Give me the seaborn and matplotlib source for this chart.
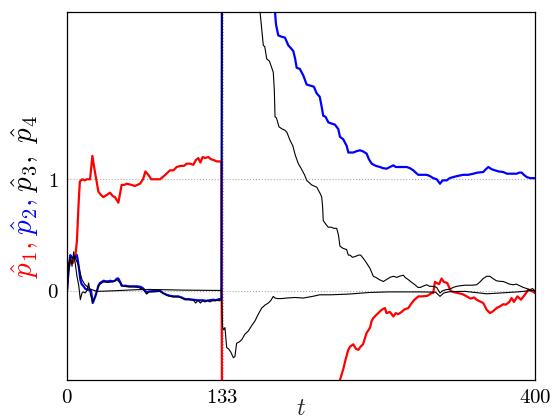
import numpy as np
import matplotlib
matplotlib.use("Agg")
import matplotlib.pyplot as plt
import seaborn as sns

# ---------------- data (t, value) ----------------
p1_points = [
    (0, 0), (1, 0.18), (3, 0.28), (5, 0.25), (7, 0.30), (8.5, 0.45), (10, 0.8), (11, 0.98),
    (13, 1.0), (15, 0.99), (17, 1.0), (19.7, 1.0), (21.7, 1.21), (23, 1.12), (25, 1.0),
    (26.8, 0.89), (29, 0.86), (31, 0.84), (34, 0.86), (36.8, 0.88), (39, 0.85), (41, 0.84),
    (43.9, 0.79), (46.7, 0.95), (49, 0.95), (51, 0.96), (55, 0.95), (58, 0.94), (62.4, 0.96),
    (65, 1.0), (67, 1.07), (69.5, 1.04), (72, 1.0), (75, 1.0), (79.5, 1.0), (83, 1.03),
    (86, 1.06), (88, 1.08), (91, 1.08), (93.7, 1.11), (97, 1.12), (100, 1.12), (102.3, 1.14),
    (105, 1.14), (108, 1.13), (110, 1.17), (112.2, 1.19), (114, 1.15), (116, 1.2), (118, 1.19),
    (120.8, 1.2), (123, 1.18), (126, 1.17), (128, 1.16), (130.8, 1.16), (132, 1.16),
    (133, -4.0), (180, -2.2), (220, -1.1), (233.3, -0.8), (236.2, -0.70), (238, -0.62),
    (240.4, -0.53), (242, -0.50), (244.7, -0.48), (247, -0.52), (249, -0.53), (251, -0.50),
    (253, -0.48), (256, -0.38), (259, -0.33), (260.4, -0.27), (261.8, -0.245), (264, -0.22),
    (266, -0.20), (269, -0.17), (271.8, -0.155), (273, -0.20), (276, -0.19), (279, -0.23),
    (281, -0.20), (283, -0.21), (286, -0.19), (288, -0.17), (291.7, -0.155), (294.6, -0.11),
    (297, -0.08), (300.3, -0.05), (304, -0.05), (308, -0.045), (311.7, -0.02), (313, -0.02),
    (314.5, 0.08), (316, 0.07), (318, 0.06), (320.2, 0.11), (322, 0.08), (325, 0.07),
    (327.9, 0.0), (330, -0.01), (334, -0.02), (338, -0.03), (341.6, -0.05), (345, -0.07),
    (348, -0.06), (350, -0.08), (355.8, -0.11), (358.7, -0.17), (361.5, -0.20), (364, -0.185),
    (367.2, -0.155), (370, -0.14), (373, -0.12), (375, -0.125), (378, -0.10), (380, -0.065),
    (382, -0.10), (385, -0.05), (388, -0.08), (391, -0.04), (394.3, 0.01), (397, 0.0), (400, -0.02),
]

p2_points = [
    (0, 0), (1.5, 0.2), (2.8, 0.32), (4, 0.30), (5.7, 0.29), (7, 0.30), (8.5, 0.32), (10, 0.22),
    (11.4, 0.10), (12.5, 0.06), (14.2, 0.04), (15.5, 0.02), (17.1, 0.01), (19, 0.01), (20.5, 0.0),
    (22, -0.11), (24.2, -0.05), (27, 0.05), (28.2, 0.07), (31.3, 0.09), (33, 0.085), (35.6, 0.085),
    (36.8, 0.09), (39, 0.085), (41, 0.09), (42.7, 0.11), (43.9, 0.11), (45.6, 0.075), (46.7, 0.045),
    (50, 0.045), (53, 0.04), (56.7, 0.04), (60, 0.04), (63, 0.035), (65.2, 0.02), (68.1, -0.015),
    (70, -0.005), (72, -0.005), (75, 0.0), (79.5, 0.0), (82, -0.02), (85.2, -0.036), (88, -0.045),
    (91, -0.05), (95.1, -0.05), (98, -0.06), (100.9, -0.075), (104, -0.075), (108, -0.08),
    (112.3, -0.086), (116, -0.085), (119, -0.09), (122, -0.085), (125, -0.08), (127, -0.085),
    (130.2, -0.075), (132, -0.075),
    (133, 7.0), (150, 4.2), (165, 2.9), (177.8, 2.5), (178.6, 2.39), (180.6, 2.29), (183, 2.28),
    (186.3, 2.27), (189.2, 2.20), (191, 2.18), (193.4, 2.15), (195, 2.08), (196.3, 2.0),
    (199, 1.99), (202, 1.93), (204.8, 1.85), (208, 1.84), (211, 1.83), (213.4, 1.77),
    (216, 1.74), (217.5, 1.66), (219, 1.57), (221, 1.56), (223.4, 1.51), (226, 1.50),
    (229, 1.49), (231.9, 1.45), (233.3, 1.38), (236, 1.36), (239, 1.30), (240.5, 1.24),
    (244.7, 1.24), (247, 1.25), (250.4, 1.26), (253, 1.25), (256.1, 1.23), (258, 1.18),
    (260.4, 1.14), (264, 1.12), (267.5, 1.11), (270, 1.10), (273.2, 1.095), (276, 1.11),
    (278.9, 1.125), (281, 1.11), (284.6, 1.11), (287, 1.11), (290.3, 1.11), (293, 1.10),
    (296, 1.08), (298, 1.06), (300.3, 1.04), (304, 1.04), (307.4, 1.04), (310, 1.03),
    (313.1, 1.01), (316, 1.00), (318.8, 0.96), (321, 0.99), (324.5, 0.99), (327, 1.01),
    (330.2, 1.02), (334, 1.03), (338.7, 1.04), (343, 1.04), (347.3, 1.05), (351, 1.06),
    (355.8, 1.065), (358, 1.09), (360.1, 1.11), (363, 1.09), (365.8, 1.08), (369, 1.07),
    (372.9, 1.065), (376, 1.05), (378.6, 1.05), (381, 1.05), (384.4, 1.05), (386.5, 1.06),
    (388.6, 1.06), (390.5, 1.04), (392.9, 1.02), (396, 1.01), (398, 1.01), (400, 1.01),
]

p3_points = [
    (0, 0), (1.5, 0.25), (3, 0.30), (4.3, 0.22), (5.7, 0.35), (7, 0.25), (8.5, 0.13), (10, 0.05),
    (11.4, -0.08), (12.8, -0.02), (14.2, -0.01), (15.5, -0.02), (17, 0.0), (18.5, 0.07),
    (20, -0.03), (22, -0.10), (24.2, -0.05), (27, 0.04), (28.2, 0.06), (31.3, 0.08), (35, 0.075),
    (39, 0.08), (42.7, 0.10), (45.6, 0.07), (48, 0.04), (53, 0.035), (57, 0.035), (61, 0.03),
    (65.2, 0.01), (68.1, -0.03), (70, -0.01), (75, -0.01), (79.5, -0.005), (85, -0.04),
    (88, -0.05), (91, -0.055), (95, -0.055), (98, -0.065), (101, -0.08), (104, -0.08),
    (108, -0.085), (110, -0.11), (112, -0.085), (114, -0.11), (116, -0.09), (118, -0.10),
    (120, -0.085), (122, -0.10), (124, -0.09), (126, -0.09), (128, -0.085), (130, -0.09),
    (132, -0.08),
    (133, 5.5), (145, 3.6), (155, 2.9), (165, 2.5), (166.4, 2.35), (167.8, 2.20), (169, 2.19),
    (170.7, 2.08), (173, 2.06), (176.3, 1.96), (177.2, 1.80), (177.8, 1.56), (179, 1.55),
    (181.2, 1.47), (184, 1.45), (186.3, 1.44), (188, 1.42), (190.6, 1.35), (193, 1.30),
    (195, 1.22), (197.7, 1.14), (200, 1.10), (203, 1.04), (204.9, 0.99), (207, 0.97),
    (209, 0.95), (211, 0.94), (213.4, 0.93), (215, 0.90), (216.5, 0.87), (217.7, 0.84),
    (218.5, 0.75), (219, 0.63), (221, 0.60), (223.3, 0.57), (226, 0.57), (228, 0.56),
    (230.5, 0.56), (232, 0.50), (233.3, 0.40), (236, 0.38), (239, 0.37), (240.4, 0.32),
    (241.9, 0.32), (244, 0.30), (247, 0.31), (249, 0.32), (251, 0.32), (253.3, 0.29),
    (256, 0.25), (259, 0.20), (261.8, 0.13), (264, 0.12), (267, 0.10), (270.4, 0.083),
    (273, 0.10), (276, 0.12), (279, 0.13), (282, 0.12), (284, 0.13), (287.5, 0.14),
    (289, 0.12), (291.7, 0.10), (294, 0.08), (297.4, 0.054), (300, 0.03), (302, 0.03),
    (304, 0.04), (307.4, 0.054), (310, 0.04), (313, 0.04), (316, 0.03), (318.8, -0.02),
    (321, 0.0), (324, 0.01), (327.4, 0.015), (330, 0.03), (333, 0.04), (336, 0.045),
    (340, 0.05), (343, 0.05), (346, 0.05), (350.2, 0.054), (353, 0.08), (355.8, 0.11),
    (358.7, 0.13), (361.5, 0.13), (364, 0.11), (367, 0.09), (370, 0.085), (372.9, 0.083),
    (376, 0.07), (378, 0.06), (381.5, 0.054), (384, 0.06), (386, 0.05), (388, 0.04),
    (390, 0.03), (392.9, 0.02), (395.7, 0.01), (398, 0.02), (400, -0.01),
]

p4_points = [
    (0, 0), (1.5, 0.2), (3, 0.3), (5, 0.3), (7, 0.30), (8.5, 0.26), (10, 0.22), (11.5, 0.15),
    (12.8, 0.10), (15, 0.06), (17, 0.04), (19, 0.02), (21.4, 0.01), (24, 0.0), (27, -0.005),
    (32, -0.003), (40, 0.0), (50, 0.005), (60, 0.01), (70, 0.012), (80, 0.01), (90, 0.008),
    (100, 0.006), (110, 0.005), (120, 0.004), (132, 0.003),
    (133, -0.33), (134, -0.35), (135, -0.33), (136.5, -0.51), (138, -0.52), (140, -0.55),
    (142.2, -0.60), (143.5, -0.59), (145, -0.47), (147, -0.46), (149.3, -0.44), (152, -0.39),
    (155, -0.36), (158, -0.31), (160.7, -0.27), (163, -0.22), (166.4, -0.155), (169, -0.13),
    (172, -0.11), (174, -0.09), (176.3, -0.05), (177.8, -0.065), (180, -0.07), (183, -0.07),
    (187.8, -0.065), (195, -0.06), (202, -0.065), (210, -0.05), (216, -0.036), (225, -0.036),
    (240, -0.03), (259, -0.015), (275, -0.01), (300, -0.01), (315, -0.012), (318.8, -0.05),
    (322, -0.02), (327, -0.008), (340, -0.005), (358.7, -0.027), (370, -0.02), (385, -0.01),
    (400, 0.005),
]

series_colors = ["#ff0000", "#0000ff", "#000000", "#000000"]
series_widths = [1.6, 1.6, 0.8, 0.8]

x_ticks = [0, 133, 400]
x_tick_labels = ["$0$", "$133$", "$400$"]
y_ticks = [0, 1]
y_tick_labels = ["$0$", "$1$"]

ylabel_parts = [r"$\hat{p}_1,$", r"$\hat{p}_2,$", r"$\hat{p}_3,\ \hat{p}_4$"]
ylabel_colors = ["#ff0000", "#0000ff", "#000000"]
xlabel_text = "$t$"

# ---------------- figure ----------------
sns.set_style("white")
plt.rcParams["mathtext.fontset"] = "cm"
plt.rcParams["font.family"] = ["DejaVu Serif"]

W, H = 558, 419
fig = plt.figure(figsize=(W / 100, H / 100), dpi=100)
ax = fig.add_axes([67 / W, 1 - 380 / H, (535 - 67) / W, (380 - 12) / H])

for pts, col, lw in zip([p1_points, p2_points, p3_points, p4_points], series_colors, series_widths):
    arr = np.array(pts, dtype=float)
    sns.lineplot(x=arr[:, 0], y=arr[:, 1], ax=ax, color=col, linewidth=lw,
                 estimator=None, sort=False, legend=False)

ax.set_xlim(0, 400)
ax.set_ylim(-0.8, 2.5)
ax.set_xticks(x_ticks, labels=x_tick_labels)
ax.set_yticks(y_ticks, labels=y_tick_labels)
ax.tick_params(axis="both", direction="in", length=3, width=0.8, labelsize=15, pad=6, colors="black")
ax.set_axisbelow(True)
ax.grid(True, linestyle=":", color="#aaaaaa", linewidth=0.8)
for s in ax.spines.values():
    s.set_visible(True)
    s.set_color("black")
    s.set_linewidth(0.9)

ax.set_xlabel(xlabel_text, fontsize=17)
ax.xaxis.label.set_va("bottom")
ax.xaxis.set_label_coords(0.5, -(419.5 - 380) / (380 - 12))
ax.set_ylabel("")

# multi-coloured y label
objs = []
for s, c in zip(ylabel_parts, ylabel_colors):
    objs.append(fig.text(0, 0, s, color=c, rotation=90, fontsize=21, ha="center", va="bottom"))
fig.canvas.draw()
renderer = fig.canvas.get_renderer()
hs = [o.get_window_extent(renderer).height for o in objs]
gap = 6
total = sum(hs) + gap * (len(hs) - 1)
center_y = H - 197
y0 = center_y - total / 2
for o, h in zip(objs, hs):
    o.set_position((25 / W, y0 / H))
    y0 += h + gap

fig.savefig("out.png", dpi=100)
